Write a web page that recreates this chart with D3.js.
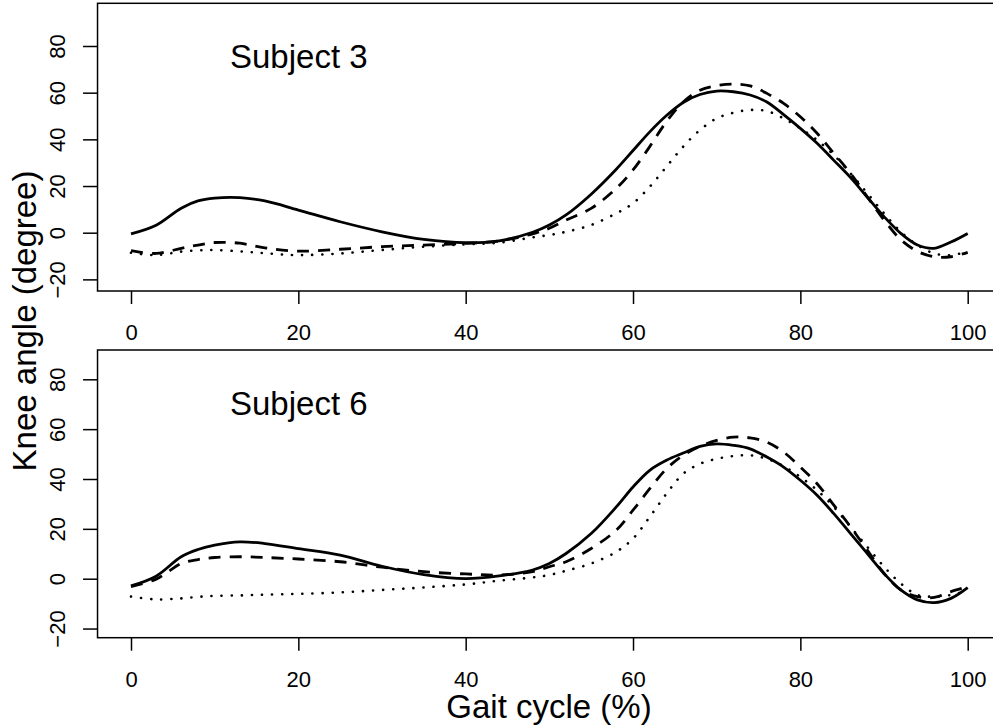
<!DOCTYPE html>
<html>
<head>
<meta charset="utf-8">
<script src="https://cdn.jsdelivr.net/npm/d3@7"></script>
<style>
  body { margin: 0; background: #fff; }
  svg { display: block; font-family: "Liberation Sans", Arial, Helvetica, sans-serif; }
</style>
</head>
<body>
<div id="chart"></div>
<script>
// gait cycle sample points (%)
const gait = [0, 3, 6, 8, 10, 13, 16, 20, 25, 30, 35, 40, 44, 48, 50, 52, 55, 58, 60, 62, 64, 66,
  68, 70, 72, 74, 76, 78, 80, 82, 84, 86, 88, 90, 92, 94, 96, 98, 100];

// Subject 3
const s3Solid = [-0.5, 3.2, 10.5, 13.6, 14.8, 15, 13.6, 9.7, 4.7, 0.4, -2.9, -4.3, -3.5, 0.2, 3.3, 7.6, 16.5, 27.2,
  35.2, 43.2, 50.2, 55.8, 59.2, 60.7, 60.4, 59, 56, 50.6, 44.7, 38.3, 31, 23.6, 15.2, 6.9, -0.3, -5.3, -6.7, -4, -0.3];
const s3Dashed = [-7.7, -8.9, -6.7, -5.3, -4.2, -4.5, -6.5, -7.9, -7.1, -6, -5.3, -4.6, -3.5, -0.5, 1.9, 5.4,
  10.4, 19, 26.9, 36.9, 47.6, 56, 61, 63, 63.7, 62.9, 59.7, 55.4, 49.7, 42.6, 34, 25.4, 15.4, 5.4, -3, -8, -10.3, -10.3, -8.4];
const s3Dotted = [-8.6, -9.6, -8.1, -7.6, -7.4, -8, -8.8, -9.6, -8.9, -7.4, -6, -5, -4.3, -2, -1, 0.4, 3.3,
  8.3, 12.6, 19.7, 28.3, 36.9, 44, 49, 51.4, 52.6, 52.1, 49, 44.7, 39.7, 33.3, 25.4, 16.9, 8.3, 0.4, -5.3, -8.9, -9.6, -8.1];

// Subject 6
const s6Solid = [-2.9, 1, 8.8, 11.7, 13.5, 14.8, 14.1, 12.1, 9.5, 5, 1.6, 0, 1.1, 3.5, 6.1, 10.1, 18.1, 28.8,
  36.8, 43.5, 47.5, 50.4, 53.1, 54.1, 53.5, 52.1, 48.8, 44.8, 39.5, 33.5, 26.1, 18.1, 10.1, 2.1, -4.5, -8.5, -9.6, -7.9, -3.6];
const s6Dashed = [-3.2, -0.2, 6.1, 7.7, 8.5, 8.8, 8.5, 7.9, 6.8, 4.6, 2.8, 1.9, 1.5, 2.8, 4.8, 6.8, 12.1, 19.5,
  27.5, 36.1, 44.1, 49.5, 53.1, 55.5, 56.8, 56.5, 54.8, 50.8, 44.8, 38.1, 29.5, 20.8, 11.5, 2.1, -4.5, -7.2, -7.5, -5.2, -3.2];
const s6Dotted = [-7.2, -8.3, -7.9, -7.3, -6.9, -6.7, -6.4, -6.1, -5.5, -4.5, -3.5, -2.3, -0.8, 0.5, 1.5, 3.2,
  6.1, 10.8, 16.1, 24.8, 34.1, 42.1, 46.1, 48.1, 49.2, 49.5, 48.1, 45.1, 40.8, 35.5, 28.8, 20.8, 12.8, 4.8, -1.9, -6.5, -7.2, -6.5, -4.8];

const xTicks = [0, 20, 40, 60, 80, 100];
const yTicks = [-20, 0, 20, 40, 60, 80];

const W = 993, H = 726;

const svg = d3.select('#chart').append('svg')
  .attr('width', W)
  .attr('height', H);

const x = d3.scaleLinear().domain([0, 100]).range([131, 967.7]);

const panels = [
  { label: 'Subject 3', top: 3.3, bottom: 291, y0: 232.7, y80: 46,
    series: [s3Solid, s3Dashed, s3Dotted] },
  { label: 'Subject 6', top: 350, bottom: 637.7, y0: 578.7, y80: 379.3,
    series: [s6Solid, s6Dashed, s6Dotted] }
];

const styles = [
  { width: 2.8, dash: null, cap: 'butt' },
  { width: 2.8, dash: '12,9', cap: 'butt' },
  { width: 2.6, dash: '0.1,10', cap: 'round' }
];

panels.forEach(p => {
  const y = d3.scaleLinear().domain([0, 80]).range([p.y0, p.y80]);
  const g = svg.append('g');
  const left = x(-4), right = x(104);

  // box
  g.append('rect')
    .attr('x', left).attr('y', p.top)
    .attr('width', right - left).attr('height', p.bottom - p.top)
    .attr('fill', 'none').attr('stroke', '#000').attr('stroke-width', 1.5);

  // x axis (ticks below the box)
  const xa = g.append('g').attr('transform', `translate(0,${p.bottom})`)
    .call(d3.axisBottom(x).tickValues(xTicks).tickSize(13).tickPadding(0).tickFormat(d3.format('d')));
  xa.select('.domain').remove();
  xa.selectAll('line').attr('stroke-width', 1.5);
  xa.selectAll('text').attr('font-size', 22).attr('fill', '#000')
    .attr('font-family', '"Liberation Sans", Arial, sans-serif')
    .attr('dy', null).attr('y', 49);

  // y axis
  const ya = g.append('g').attr('transform', `translate(${left},0)`)
    .call(d3.axisLeft(y).tickValues(yTicks).tickSize(14.5).tickFormat(d => d < 0 ? '\u2212' + Math.abs(d) : d));
  ya.select('.domain').remove();
  ya.selectAll('line').attr('stroke-width', 1.5);
  ya.selectAll('text')
    .attr('font-size', 22).attr('fill', '#000')
    .attr('font-family', '"Liberation Sans", Arial, sans-serif')
    .attr('x', null).attr('dy', null)
    .attr('text-anchor', 'middle')
    .attr('transform', `translate(${65 - left},0) rotate(-90)`);

  // curves
  const line = d3.line()
    .x((d, i) => x(gait[i]))
    .y(d => y(d))
    .curve(d3.curveCatmullRom.alpha(0.5));

  p.series.forEach((s, k) => {
    g.append('path')
      .datum(s)
      .attr('d', line)
      .attr('fill', 'none')
      .attr('stroke', '#000')
      .attr('stroke-width', styles[k].width)
      .attr('stroke-dasharray', styles[k].dash)
      .attr('stroke-linecap', styles[k].cap);
  });

  g.append('text')
    .attr('x', 230).attr('y', p.top + 65)
    .attr('font-size', 33)
    .text(p.label);
});

// axis titles
svg.append('text')
  .attr('transform', 'translate(36,321) rotate(-90)')
  .attr('text-anchor', 'middle')
  .attr('font-size', 33)
  .text('Knee angle (degree)');

svg.append('text')
  .attr('x', 549).attr('y', 718)
  .attr('text-anchor', 'middle')
  .attr('font-size', 33)
  .text('Gait cycle (%)');
</script>
</body>
</html>
